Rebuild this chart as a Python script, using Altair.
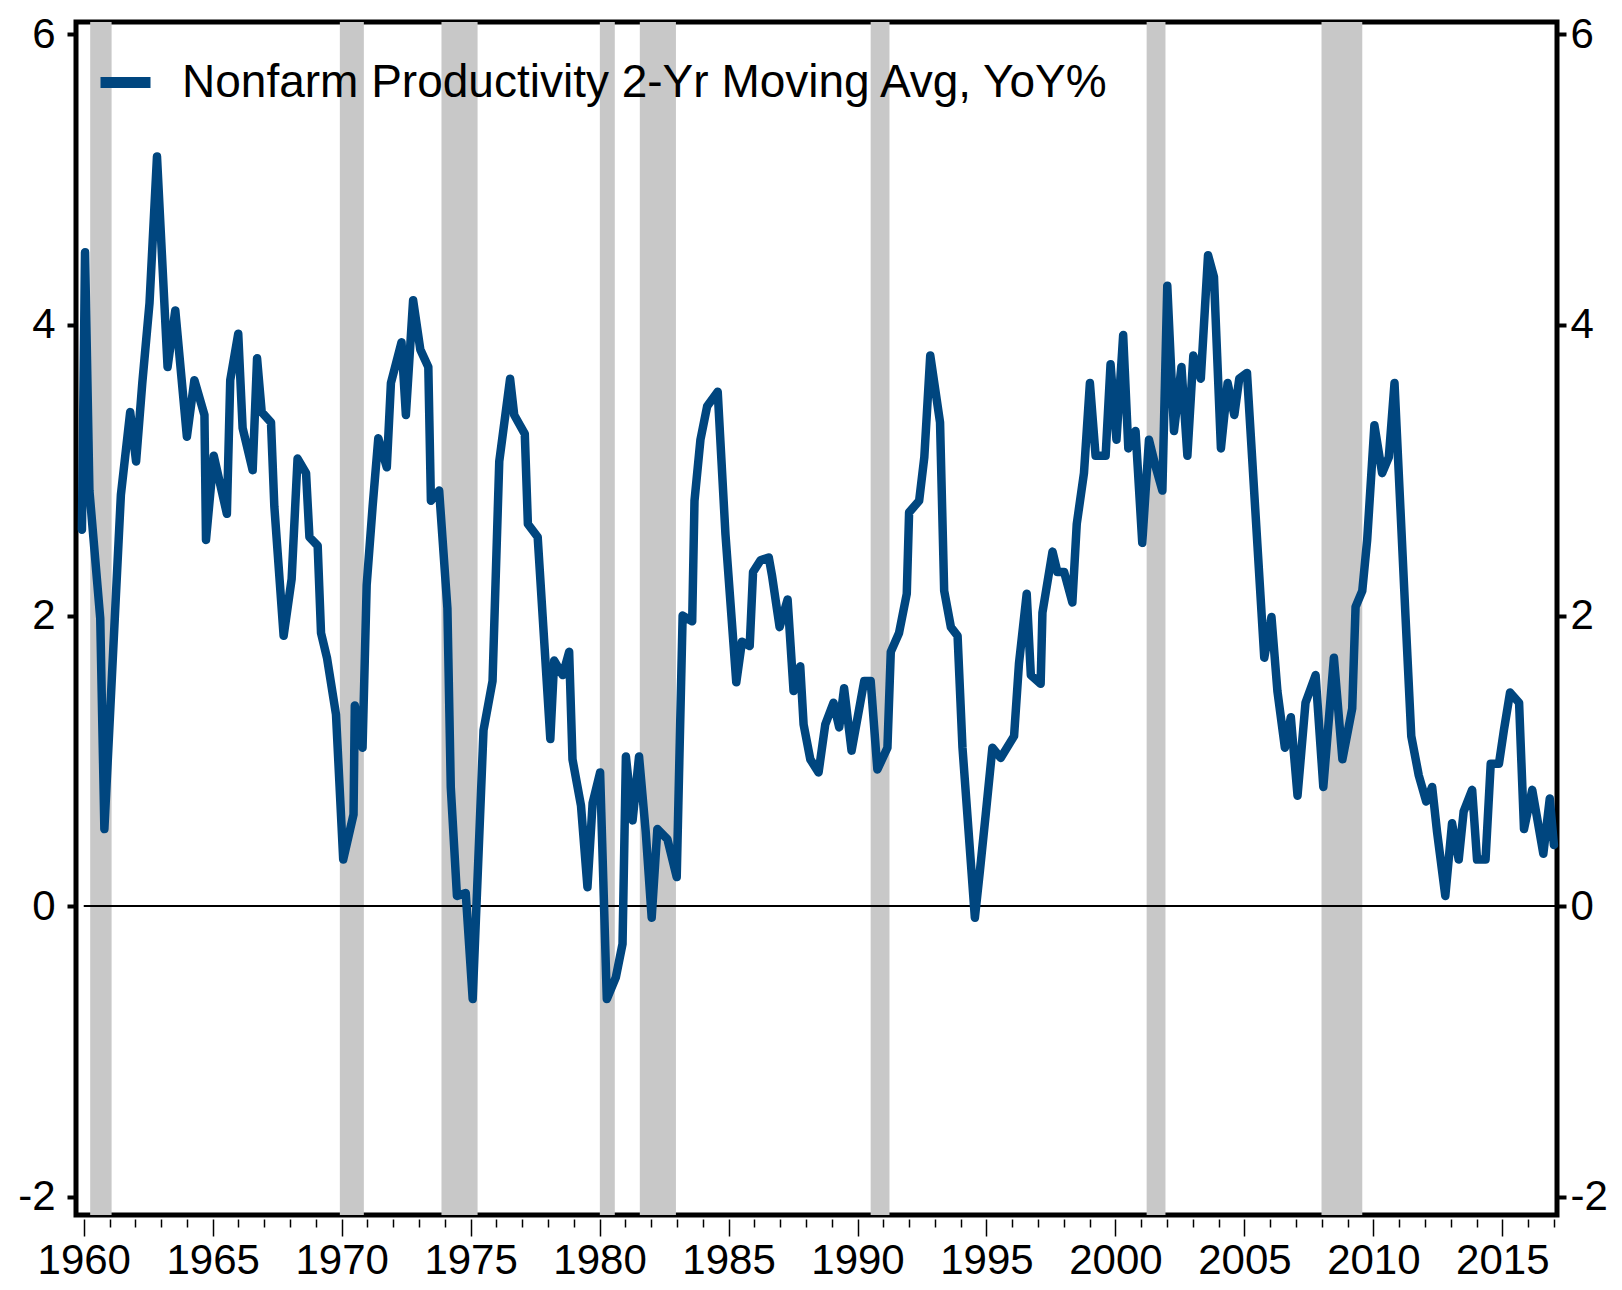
import altair as alt
import pandas as pd

# ---- data ----
years = [
    1959.93, 1960.05, 1960.22, 1960.64, 1960.80, 1961.44, 1961.80, 1962.03, 1962.27, 1962.55,
    1962.84, 1963.25, 1963.55, 1964.00, 1964.29, 1964.68, 1964.74, 1965.04, 1965.55, 1965.68,
    1965.99, 1966.16, 1966.55, 1966.72, 1966.90, 1967.26, 1967.39, 1967.75, 1968.06, 1968.29,
    1968.62, 1968.75, 1969.07, 1969.20, 1969.43, 1969.78, 1970.06, 1970.46, 1970.51, 1970.81,
    1970.97, 1971.20, 1971.42, 1971.75, 1971.91, 1972.32, 1972.49, 1972.77, 1973.05, 1973.36,
    1973.46, 1973.78, 1974.10, 1974.23, 1974.47, 1974.81, 1975.08, 1975.50, 1975.85, 1976.11,
    1976.53, 1976.69, 1977.10, 1977.22, 1977.60, 1978.09, 1978.24, 1978.57, 1978.82, 1978.95,
    1979.28, 1979.53, 1979.73, 1980.02, 1980.28, 1980.63, 1980.89, 1981.02, 1981.28, 1981.53,
    1981.79, 1982.02, 1982.24, 1982.63, 1982.99, 1983.22, 1983.59, 1983.68, 1983.91, 1984.17,
    1984.58, 1984.88, 1985.30, 1985.52, 1985.82, 1985.95, 1986.24, 1986.56, 1986.69, 1986.98,
    1987.29, 1987.52, 1987.78, 1987.91, 1988.17, 1988.49, 1988.75, 1989.07, 1989.29, 1989.48,
    1989.77, 1990.26, 1990.51, 1990.77, 1991.16, 1991.29, 1991.61, 1991.91, 1992.00, 1992.39,
    1992.59, 1992.82, 1993.20, 1993.36, 1993.62, 1993.88, 1994.07, 1994.55, 1994.75, 1994.97,
    1995.23, 1995.55, 1996.07, 1996.26, 1996.56, 1996.72, 1997.10, 1997.17, 1997.56, 1997.75,
    1998.01, 1998.33, 1998.50, 1998.78, 1999.01, 1999.23, 1999.62, 1999.81, 2000.04, 2000.30,
    2000.50, 2000.78, 2001.04, 2001.30, 2001.55, 2001.82, 2002.01, 2002.27, 2002.56, 2002.79,
    2003.02, 2003.31, 2003.59, 2003.82, 2004.09, 2004.35, 2004.61, 2004.80, 2005.10, 2005.77,
    2006.05, 2006.28, 2006.57, 2006.80, 2007.06, 2007.37, 2007.76, 2008.06, 2008.47, 2008.80,
    2009.18, 2009.31, 2009.57, 2009.76, 2010.04, 2010.34, 2010.60, 2010.82, 2011.25, 2011.47,
    2011.76, 2012.05, 2012.28, 2012.47, 2012.79, 2013.05, 2013.31, 2013.50, 2013.83, 2014.02,
    2014.35, 2014.55, 2014.87, 2015.06, 2015.30, 2015.65, 2015.84, 2016.16, 2016.59, 2016.84,
    2017.00,
]
values = [
    2.59, 4.50, 2.86, 1.98, 0.53, 2.83, 3.40, 3.06, 3.60, 4.15,
    5.16, 3.71, 4.10, 3.23, 3.62, 3.38, 2.52, 3.10, 2.70, 3.62,
    3.94, 3.29, 3.00, 3.77, 3.40, 3.33, 2.75, 1.86, 2.25, 3.08,
    2.98, 2.54, 2.48, 1.88, 1.71, 1.32, 0.32, 0.63, 1.38, 1.09,
    2.21, 2.75, 3.22, 3.02, 3.60, 3.88, 3.38, 4.17, 3.83, 3.71,
    2.79, 2.86, 2.05, 0.82, 0.07, 0.09, -0.64, 1.21, 1.55, 3.06,
    3.63, 3.38, 3.25, 2.63, 2.54, 1.15, 1.69, 1.59, 1.75, 1.01,
    0.69, 0.13, 0.71, 0.92, -0.64, -0.49, -0.26, 1.03, 0.59, 1.03,
    0.51, -0.08, 0.53, 0.46, 0.20, 2.00, 1.96, 2.79, 3.21, 3.44,
    3.54, 2.56, 1.54, 1.82, 1.79, 2.30, 2.38, 2.40, 2.27, 1.92,
    2.11, 1.48, 1.65, 1.25, 1.01, 0.92, 1.25, 1.40, 1.23, 1.50,
    1.07, 1.55, 1.55, 0.94, 1.09, 1.75, 1.88, 2.15, 2.71, 2.79,
    3.09, 3.79, 3.33, 2.17, 1.92, 1.86, 1.09, -0.08, 0.25, 0.63,
    1.09, 1.02, 1.17, 1.67, 2.15, 1.59, 1.53, 2.02, 2.44, 2.30,
    2.30, 2.09, 2.63, 2.98, 3.60, 3.10, 3.10, 3.73, 3.21, 3.93,
    3.15, 3.27, 2.50, 3.21, 3.03, 2.86, 4.27, 3.27, 3.71, 3.10,
    3.79, 3.63, 4.48, 4.33, 3.15, 3.60, 3.38, 3.63, 3.67, 1.71,
    1.99, 1.48, 1.09, 1.30, 0.76, 1.40, 1.59, 0.82, 1.71, 1.01,
    1.36, 2.06, 2.17, 2.52, 3.31, 2.98, 3.09, 3.60, 1.98, 1.17,
    0.90, 0.72, 0.82, 0.51, 0.07, 0.57, 0.32, 0.65, 0.80, 0.32,
    0.32, 0.98, 0.98, 1.21, 1.47, 1.40, 0.53, 0.80, 0.36, 0.74,
    0.42,
]
series_name = "Nonfarm Productivity 2-Yr Moving Avg, YoY%"

rec_start = [1960.25, 1969.93, 1973.87, 1980.01, 1981.56, 1990.51, 2001.21, 2007.99]
rec_end = [1961.08, 1970.86, 1975.27, 1980.59, 1982.96, 1991.24, 2001.94, 2009.57]

y_ticks = [-2, 0, 2, 4, 6]
x_ticks = list(range(1960, 2018))

XMIN, XMAX = 1959.7, 2017.12
YMIN, YMAX = -2.126, 6.085

FONT = "Liberation Sans, Arial, sans-serif"

df = pd.DataFrame({"year": years, "value": values, "series": series_name})
rec = pd.DataFrame({"start": rec_start, "end": rec_end})
zero = pd.DataFrame({"x": [1960.0], "x2": [XMAX], "y": [0.0]})

xscale = alt.Scale(domain=[XMIN, XMAX], nice=False, zero=False)
yscale = alt.Scale(domain=[YMIN, YMAX], nice=False, zero=False)

x_axis = alt.Axis(
    values=x_ticks,
    labelExpr="datum.value % 5 === 0 ? '' + datum.value : ''",
    tickSize={"condition": {"test": "datum.value % 5 === 0", "value": 17}, "value": 8},
    tickWidth=1.5,
    tickColor="black",
    domain=False,
    grid=False,
    offset=4,
    labelFont=FONT,
    labelFontSize=42,
    labelColor="black",
    labelPadding=4,
    labelFlush=False,
    labelOverlap=False,
    title=None,
)

def y_axis(orient, pad):
    return alt.Axis(
        orient=orient,
        values=y_ticks,
        labelExpr="'' + datum.value",
        tickSize=9,
        tickWidth=4,
        tickColor="black",
        domain=False,
        grid=False,
        labelFont=FONT,
        labelFontSize=42,
        labelColor="black",
        labelPadding=pad,
        labelFlush=False,
        title=None,
    )

rects = alt.Chart(rec).mark_rect(color="#c8c8c8").encode(
    x=alt.X("start:Q", scale=xscale, axis=x_axis),
    x2="end:Q",
)

rule = alt.Chart(zero).mark_rule(color="black", strokeWidth=2).encode(
    x=alt.X("x:Q", scale=xscale, axis=x_axis),
    x2="x2:Q",
    y=alt.Y("y:Q", scale=yscale, axis=y_axis("right", 4)),
)

line = alt.Chart(df).mark_line(strokeWidth=8.5, strokeCap="round", strokeJoin="round").encode(
    x=alt.X("year:Q", scale=xscale, axis=x_axis),
    y=alt.Y("value:Q", scale=yscale, axis=y_axis("left", 12)),
    color=alt.Color(
        "series:N",
        scale=alt.Scale(domain=[series_name], range=["#00467f"]),
        legend=alt.Legend(
            title=None,
            orient="none",
            legendX=19,
            legendY=30,
            symbolType="stroke",
            symbolStrokeWidth=11,
            symbolSize=2500,
            labelFont=FONT,
            labelFontSize=46,
            labelColor="black",
            labelOffset=26,
            labelLimit=0,
            padding=0,
        ),
    ),
)

chart = (
    alt.layer(rects, rule, line)
    .resolve_scale(y="independent")
    .properties(
        width=1481,
        height=1193,
        autosize=alt.AutoSizeParams(type="none"),
        padding={"left": 68, "top": 14, "right": 57, "bottom": 67},
        background="white",
    )
    .configure_view(stroke="black", strokeWidth=5)
)

chart.save("out.html", embed_options={"renderer": "svg", "actions": False})
